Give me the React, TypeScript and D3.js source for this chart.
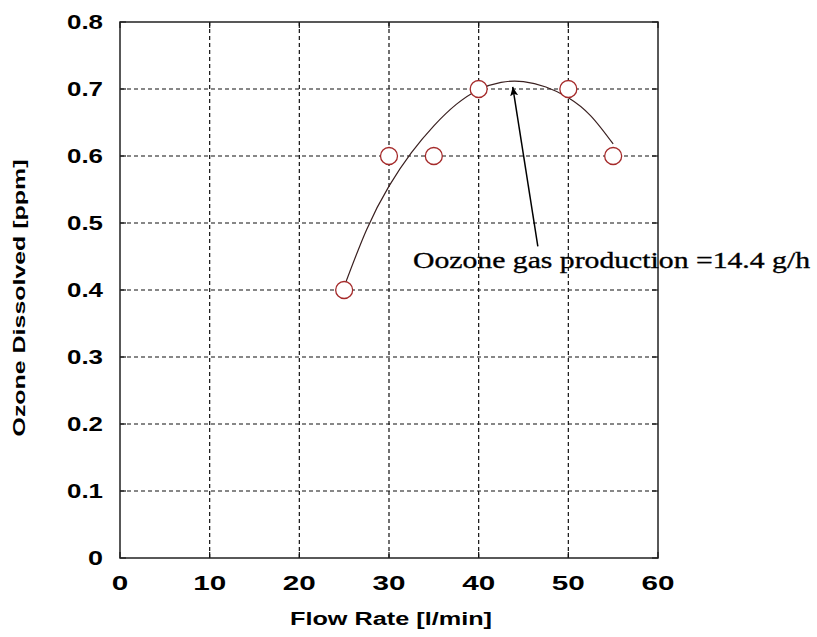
import React from 'react'
import * as d3 from 'd3'

// measured points
const flowRate = [25, 30, 35, 40, 50, 55]
const ozone = [0.4, 0.6, 0.6, 0.7, 0.7, 0.6]

// fitted curve
const fitX = [25, 27.5, 30, 32.5, 35, 37.5, 40, 42.5, 45, 47.5, 50, 52.5, 55]
const fitY = [0.405, 0.49, 0.555, 0.605, 0.645, 0.677, 0.699, 0.710, 0.711, 0.703, 0.687, 0.660, 0.618]

const xTicks = [0, 10, 20, 30, 40, 50, 60]
const yTicks = [0, 0.1, 0.2, 0.3, 0.4, 0.5, 0.6, 0.7, 0.8]

const noteText = 'Oozone gas production =14.4  g/h'
const noteTail = [46.6, 0.465]
const noteHead = [43.8, 0.703]

const W = 817
const H = 637
const margin = { top: 22, right: 159, bottom: 79, left: 120 }

const App = () => {
    const x = d3.scaleLinear().domain([0, 60]).range([margin.left, W - margin.right])
    const y = d3.scaleLinear().domain([0, 0.8]).range([H - margin.bottom, margin.top])

    const line = d3.line<number>()
        .x((d, i) => x(fitX[i]))
        .y(d => y(d))
        .curve(d3.curveNatural)

    const sans = 'Liberation Sans, Arial, sans-serif'
    const x0 = x(0), x1 = x(60), y0 = y(0), y1 = y(0.8)

    return (
        <svg width={W} height={H} style={{ position: 'absolute', left: 0, top: 0, background: '#fff' }}>
            <defs>
                <marker id="head" viewBox="0 0 10 10" refX="10" refY="5" markerWidth="9" markerHeight="13" orient="auto" markerUnits="userSpaceOnUse">
                    <path d="M0,0.5 L10,5 L0,9.5 L2.5,5 Z" fill="#000" />
                </marker>
            </defs>

            {/* grid */}
            <g stroke="#111" strokeWidth={1.2} strokeDasharray="4,3">
                {xTicks.slice(1, -1).map(t => (
                    <line key={'gx' + t} x1={x(t)} x2={x(t)} y1={y0} y2={y1} />
                ))}
                {yTicks.slice(1, -1).map(t => (
                    <line key={'gy' + t} x1={x0} x2={x1} y1={y(t)} y2={y(t)} />
                ))}
            </g>

            {/* inward ticks */}
            <g stroke="#111" strokeWidth={1.2}>
                {xTicks.map(t => (
                    <g key={'tx' + t}>
                        <line x1={x(t)} x2={x(t)} y1={y0} y2={y0 - 6} />
                        <line x1={x(t)} x2={x(t)} y1={y1} y2={y1 + 6} />
                    </g>
                ))}
                {yTicks.map(t => (
                    <g key={'ty' + t}>
                        <line x1={x0} x2={x0 + 6} y1={y(t)} y2={y(t)} />
                        <line x1={x1} x2={x1 - 6} y1={y(t)} y2={y(t)} />
                    </g>
                ))}
            </g>

            <rect x={x0} y={y1} width={x1 - x0} height={y0 - y1} fill="none" stroke="#222" strokeWidth={1.5} />

            {/* tick labels */}
            <g fontFamily={sans} fontWeight="bold" fontSize={20} fill="#000">
                {xTicks.map(t => (
                    <text key={'lx' + t} x={x(t)} y={y0 + 32} textAnchor="middle"
                        textLength={String(t).length * 16.5} lengthAdjust="spacingAndGlyphs">{t}</text>
                ))}
                {yTicks.map(t => {
                    const s = t === 0 ? '0' : t.toFixed(1)
                    return (
                        <text key={'ly' + t} x={103} y={y(t) + 7} textAnchor="end"
                            textLength={s.length === 1 ? 15 : 36} lengthAdjust="spacingAndGlyphs">{s}</text>
                    )
                })}
            </g>

            <text x={(x0 + x1) / 2 + 2} y={625} textAnchor="middle" fontFamily={sans} fontWeight="bold" fontSize={18}
                textLength={202} lengthAdjust="spacingAndGlyphs">Flow Rate [l/min]</text>
            <text transform="translate(25, 298) rotate(-90)" textAnchor="middle" fontFamily={sans} fontWeight="bold" fontSize={17}
                textLength={277} lengthAdjust="spacingAndGlyphs">Ozone Dissolved [ppm]</text>

            {/* fit curve */}
            <path d={line(fitY) || ''} fill="none" stroke="#3a2020" strokeWidth={1.2} />

            {/* points */}
            {flowRate.map((d, i) => (
                <circle key={'p' + i} cx={x(d)} cy={y(ozone[i])} r={8.5} fill="#fff" stroke="#a52a2a" strokeWidth={1.3} />
            ))}

            {/* annotation */}
            <line x1={x(noteTail[0])} y1={y(noteTail[1])} x2={x(noteHead[0])} y2={y(noteHead[1])} stroke="#000" strokeWidth={1.5} markerEnd="url(#head)" />
            <text x={413} y={268} fontFamily="Liberation Serif, Times New Roman, serif" fontSize={24} stroke="#000" strokeWidth={0.35}
                textLength={397} lengthAdjust="spacingAndGlyphs">{noteText}</text>
        </svg>
    )
}

export default App
